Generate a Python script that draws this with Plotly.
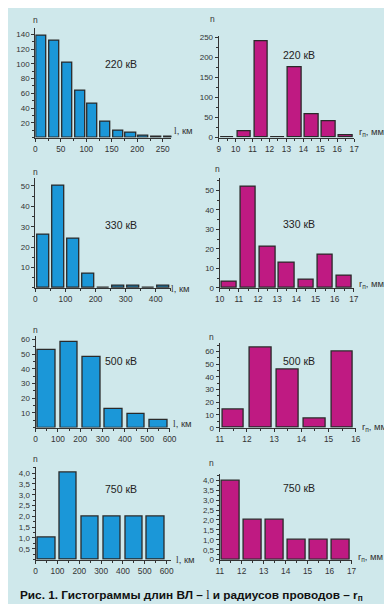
import plotly.graph_objects as go

W, H = 392, 604
BG = "#cfe8eb"
BLUE = "#1b97d8"
MAG = "#bf1a82"
EDGE = "#2a2a2a"
AX = "#333333"
FONT = "Liberation Sans, Arial, sans-serif"

# ---------------- data ----------------
# Lengths of overhead lines, km (bin centres) and counts
len220_x = [12.5, 37.5, 62.5, 87.5, 112.5, 137.5, 162.5, 187.5, 212.5, 237.5, 262.5]
len220_n = [138, 132, 101, 63, 46, 21, 9, 7, 2, 1, 1]
len330_x = [25, 75, 125, 175, 225, 275, 325, 375, 425]
len330_n = [26, 50, 24, 7, 0, 1, 1, 0, 1]
len500_x = [50, 150, 250, 350, 450, 550]
len500_n = [53, 58, 48, 13, 9, 5]
len750_x = [50, 150, 250, 350, 450, 550]
len750_n = [1, 4, 2, 2, 2, 2]

# Conductor radii, mm (bin centres) and counts
rad220_x = [9.5, 10.5, 11.5, 12.5, 13.5, 14.5, 15.5, 16.5]
rad220_n = [0, 15, 240, 0, 175, 57, 40, 5]
rad330_x = [10.5, 11.5, 12.5, 13.5, 14.5, 15.5, 16.5]
rad330_n = [3, 52, 21, 13, 4, 17, 6]
rad500_x = [11.5, 12.5, 13.5, 14.5, 15.5]
rad500_n = [14, 63, 46, 7, 60]
rad750_x = [11.5, 12.5, 13.5, 14.5, 15.5, 16.5]
rad750_n = [4, 2, 2, 1, 1, 1]

voltages = ["220 кВ", "330 кВ", "500 кВ", "750 кВ"]

# tick labels
y220l_vals = [20, 40, 60, 80, 100, 120, 140]
y220r_vals = [0, 50, 100, 150, 200, 250]
y330l_vals = [10, 20, 30, 40, 50]
y330r_vals = [0, 10, 20, 30, 40, 50]
y500l_vals = [10, 20, 30, 40, 50, 60]
y500r_vals = [0, 10, 20, 30, 40, 50, 60]
y750l_vals = [0.5, 1.0, 1.5, 2.0, 2.5, 3.0, 3.5, 4.0]
y750l_text = ["0,5", "1,0", "1,5", "2,0", "2,5", "3,0", "3,5", "4,0"]
y750r_vals = [0, 0.5, 1.0, 1.5, 2.0, 2.5, 3.0, 3.5, 4.0]
y750r_text = ["0", "0,5", "1,0", "1,5", "2,0", "2,5", "3,0", "3,5", "4,0"]

x220l_vals = [0, 50, 100, 150, 200, 250]
x220r_vals = [9, 10, 11, 12, 13, 14, 15, 16, 17]
x330l_vals = [0, 100, 200, 300, 400]
x330r_vals = [10, 11, 12, 13, 14, 15, 16, 17]
x500l_vals = [0, 100, 200, 300, 400, 500, 600]
x500r_vals = [11, 12, 13, 14, 15, 16]
x750l_vals = [0, 100, 200, 300, 400, 500, 600]
x750r_vals = [11, 12, 13, 14, 15, 16, 17]


def fx(px):
    return px / W


def fy(py):
    return 1 - py / H


# panel geometry in pixels: (x0, x1, xrange, y0top, y1bottom, yrange)
panels = [
    dict(x=(23, 163), xr=(0, 267), y=(17, 128.2), yr=(0, 149), bx=len220_x, by=len220_n, w=20, c=BLUE,
         xt=x220l_vals, xtt=None, xm=25, yt=y220l_vals, ytt=None, ym=10, lab=(111, 54), n=(23.5, 9), kind="l",
         axl=(164, 121.5)),
    dict(x=(211.7, 351), xr=(9, 17), y=(25.7, 128.3), yr=(0, 252), bx=rad220_x, by=rad220_n, w=0.8, c=MAG,
         xt=x220r_vals, xtt=None, xm=0.5, yt=y220r_vals, ytt=None, ym=25, lab=(294.7, 44.5), n=(205, 8.5), kind="r",
         axl=(354, 122.5)),
    dict(x=(23, 163), xr=(0, 452), y=(169, 280.7), yr=(0, 54), bx=len330_x, by=len330_n, w=40, c=BLUE,
         xt=x330l_vals, xtt=None, xm=50, yt=y330l_vals, ytt=None, ym=5, lab=(111, 217), n=(23, 163), kind="l",
         axl=(161, 281.5)),
    dict(x=(212.7, 350.7), xr=(10, 17), y=(169, 280.7), yr=(0, 56.4), bx=rad330_x, by=rad330_n, w=0.8, c=MAG,
         xt=x330r_vals, xtt=None, xm=0.5, yt=y330r_vals, ytt=None, ym=5, lab=(294, 216), n=(210.5, 160), kind="r",
         axl=(354, 276.5)),
    dict(x=(23.3, 162), xr=(0, 604), y=(329.3, 422.2), yr=(0, 62.3), bx=len500_x, by=len500_n, w=80, c=BLUE,
         xt=x500l_vals, xtt=None, xm=50, yt=y500l_vals, ytt=None, ym=5, lab=(111.3, 354.5), n=(23, 323.5), kind="l",
         axl=(163, 418.5)),
    dict(x=(212.7, 352.7), xr=(11, 16), y=(336, 422.3), yr=(0, 67), bx=rad500_x, by=rad500_n, w=0.8, c=MAG,
         xt=x500r_vals, xtt=None, xm=0.5, yt=y500r_vals, ytt=None, ym=5, lab=(294.3, 354.5), n=(204.5, 330), kind="r",
         axl=(357, 421.5)),
    dict(x=(23.3, 163), xr=(0, 622), y=(461.7, 556), yr=(0, 4.3), bx=len750_x, by=len750_n, w=80, c=BLUE,
         xt=x750l_vals, xtt=None, xm=50, yt=y750l_vals, ytt=y750l_text, ym=0.25, lab=(111, 484), n=(23.5, 454),
         kind="l", axl=(166, 556)),
    dict(x=(212.7, 348.3), xr=(11, 17), y=(469, 556), yr=(0, 4.33), bx=rad750_x, by=rad750_n, w=0.8, c=MAG,
         xt=x750r_vals, xtt=None, xm=0.5, yt=y750r_vals, ytt=y750r_text, ym=0.25, lab=(294.3, 483.5), n=(204.5, 458.5),
         kind="r", axl=(353, 553.5)),
]

fig = go.Figure()
annotations = []
layout = {}
for i, p in enumerate(panels):
    k = "" if i == 0 else str(i + 1)
    fig.add_trace(go.Bar(
        x=p["bx"], y=p["by"], width=p["w"],
        marker=dict(color=p["c"], line=dict(color=EDGE, width=1.3)),
        xaxis="x" + k, yaxis="y" + k, showlegend=False, hoverinfo="x+y",
    ))
    tickfont = dict(family=FONT, size=8.3, color=AX)
    layout["xaxis" + k] = dict(
        domain=[fx(p["x"][0]), fx(p["x"][1])], range=list(p["xr"]), anchor="y" + k,
        showline=True, linecolor=AX, linewidth=1.2, showgrid=False, zeroline=False,
        tickmode="array", tickvals=p["xt"], ticks="outside", ticklen=3, tickcolor=AX, tickwidth=1,
        tickfont=tickfont, fixedrange=True,
        minor=dict(dtick=p["xm"], tick0=p["xr"][0], ticks="outside", ticklen=2, tickcolor=AX, showgrid=False),
    )
    ydict = dict(
        domain=[fy(p["y"][1]), fy(p["y"][0])], range=list(p["yr"]), anchor="x" + k,
        showline=True, linecolor=AX, linewidth=1.2, showgrid=False, zeroline=False,
        tickmode="array", tickvals=p["yt"], ticks="outside", ticklen=3, tickcolor=AX, tickwidth=1,
        tickfont=dict(family=FONT, size=8, color=AX), fixedrange=True,
        minor=dict(dtick=p["ym"], tick0=0, ticks="outside", ticklen=2, tickcolor=AX, showgrid=False),
    )
    if p["ytt"] is not None:
        ydict["ticktext"] = p["ytt"]
    layout["yaxis" + k] = ydict

    annotations.append(dict(text=voltages[i // 2], x=fx(p["lab"][0]), y=fy(p["lab"][1]), xref="paper",
                            yref="paper", showarrow=False, xanchor="center", yanchor="middle",
                            font=dict(family=FONT, size=10.5, color="#222")))
    annotations.append(dict(text="n", x=fx(p["n"][0]), y=fy(p["n"][1]), xref="paper", yref="paper",
                            showarrow=False, xanchor="center", yanchor="middle",
                            font=dict(family=FONT, size=8.5, color=AX)))
    if p["kind"] == "l":
        t = "<span style='font-family:Liberation Serif'>l</span>, км"
    else:
        t = "r<sub>п</sub>, мм"
    annotations.append(dict(text=t, x=fx(p["axl"][0]), y=fy(p["axl"][1]), xref="paper", yref="paper",
                            showarrow=False, xanchor="left", yanchor="middle",
                            font=dict(family=FONT, size=9.5, color=AX)))

annotations.append(dict(
    text="<b>Рис. 1. Гистограммы длин ВЛ – <span style='font-family:Liberation Serif;font-weight:normal'>l</span> и радиусов проводов – r<sub>п</sub></b>",
    x=fx(5), y=fy(592), xref="paper", yref="paper", showarrow=False, xanchor="left", yanchor="middle",
    font=dict(family=FONT, size=11.8, color="#111")))

fig.update_layout(
    width=W, height=H, margin=dict(l=0, r=0, t=0, b=0),
    paper_bgcolor=BG, plot_bgcolor=BG, bargap=0,
    annotations=annotations, **layout,
)
fig.write_html("out.html", config={"displayModeBar": False})
